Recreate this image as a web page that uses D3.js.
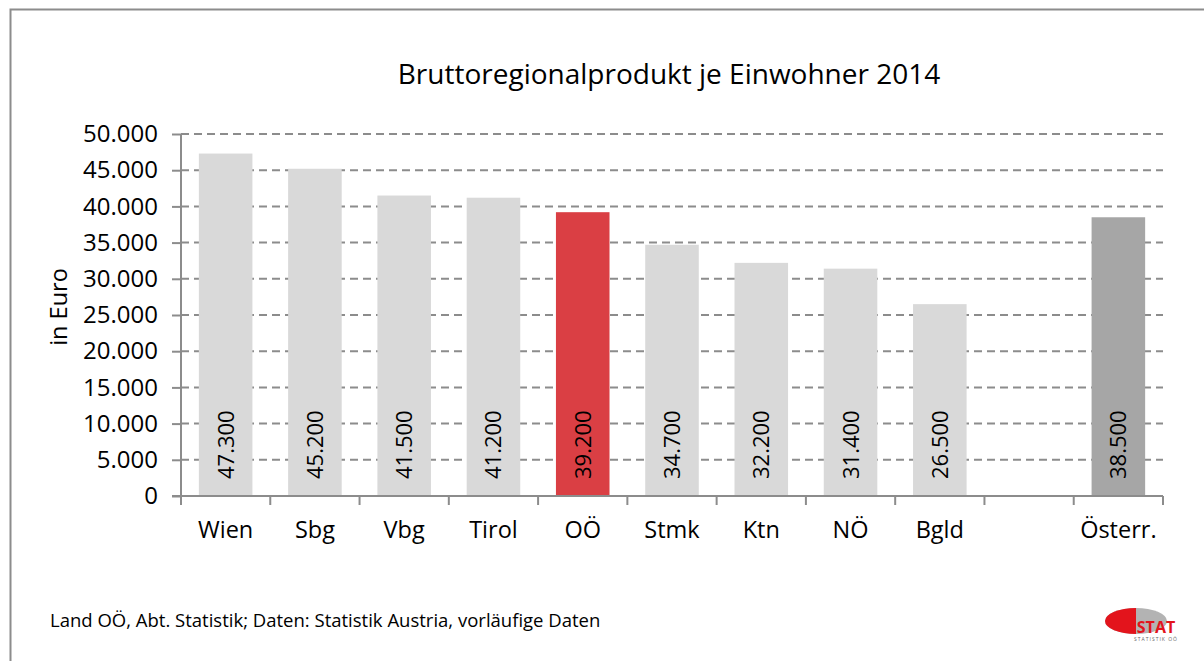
<!DOCTYPE html>
<html>
<head>
<meta charset="utf-8">
<script src="https://cdn.jsdelivr.net/npm/d3@7"></script>
<style>
  body { margin: 0; background: #fff; }
  text { font-family: "Open Sans", sans-serif; fill: #000; }
</style>
</head>
<body>
<div id="graph"></div>
<script>
// Chart data
var regions = ["Wien", "Sbg", "Vbg", "Tirol", "OÖ", "Stmk", "Ktn", "NÖ", "Bgld", "", "Österr."];
var values = [47300, 45200, 41500, 41200, 39200, 34700, 32200, 31400, 26500, null, 38500];
var yTicks = [0, 5000, 10000, 15000, 20000, 25000, 30000, 35000, 40000, 45000, 50000];

var width = 1204;
var height = 661;
var margin = { top: 134, right: 41, bottom: 165, left: 181 };

var svg = d3.select("#graph")
  .append("svg")
  .attr("width", width)
  .attr("height", height);

// outer frame
svg.append("rect")
  .attr("x", 10.5).attr("y", 9.5)
  .attr("width", 1210).attr("height", 700)
  .attr("fill", "none")
  .attr("stroke", "#8c8c8c")
  .attr("stroke-width", 2);

var fmt = function(v) { return d3.format(",")(v).replace(/,/g, "."); };

var xScale = d3.scaleBand()
  .domain(d3.range(regions.length))
  .range([margin.left, width - margin.right])
  .paddingInner(0.4)
  .paddingOuter(0.2);

var yScale = d3.scaleLinear()
  .domain([0, 50000])
  .range([height - margin.bottom, margin.top]);

// only the categories that have a value
var idx = d3.range(values.length).filter(function(i) { return values[i] != null; });

// gridlines
svg.append("g")
  .selectAll("line")
  .data(yTicks.slice(1))
  .enter().append("line")
  .attr("x1", margin.left)
  .attr("x2", width - margin.right)
  .attr("y1", function(d) { return yScale(d); })
  .attr("y2", function(d) { return yScale(d); })
  .attr("stroke", "#8c8c8c")
  .attr("stroke-width", 2)
  .attr("stroke-dasharray", "8,5");

// bars
svg.append("g")
  .selectAll("rect")
  .data(idx)
  .enter().append("rect")
  .attr("x", function(i) { return xScale(i); })
  .attr("width", xScale.bandwidth())
  .attr("y", function(i) { return yScale(values[i]); })
  .attr("height", function(i) { return yScale(0) - yScale(values[i]); })
  .attr("fill", function(i) {
    if (regions[i] === "OÖ") return "#da3f44";
    if (regions[i] === "Österr.") return "#a6a6a6";
    return "#d9d9d9";
  });

// value labels (rotated)
svg.append("g")
  .selectAll("text")
  .data(idx)
  .enter().append("text")
  .attr("transform", function(i) {
    return "translate(" + (xScale(i) + xScale.bandwidth() / 2 + 8) + "," + (yScale(0) - 17) + ") rotate(-90)";
  })
  .attr("font-size", 22)
  .text(function(i) { return fmt(values[i]); });

// y axis
var yAxis = svg.append("g")
  .attr("transform", "translate(" + margin.left + ",0)")
  .call(d3.axisLeft(yScale).tickValues(yTicks).tickSize(9).tickPadding(14).tickFormat(fmt));
yAxis.select(".domain").attr("stroke", "#8c8c8c").attr("stroke-width", 2).attr("d", "M0," + yScale(0) + "V" + yScale(50000));
yAxis.selectAll(".tick line").attr("stroke", "#8c8c8c").attr("stroke-width", 2);
yAxis.selectAll(".tick text").attr("font-size", 24).attr("font-family", "Open Sans, sans-serif");

// x axis
var xPos = d3.scaleLinear().domain([0, regions.length]).range([margin.left, width - margin.right]);
var xAxis = svg.append("g")
  .attr("transform", "translate(0," + yScale(0) + ")");
xAxis.append("line")
  .attr("x1", margin.left - 9).attr("x2", width - margin.right)
  .attr("stroke", "#8c8c8c").attr("stroke-width", 2);
xAxis.selectAll(".xt")
  .data(d3.range(regions.length + 1))
  .enter().append("line")
  .attr("x1", function(d) { return xPos(d); })
  .attr("x2", function(d) { return xPos(d); })
  .attr("y1", 0).attr("y2", 9)
  .attr("stroke", "#8c8c8c").attr("stroke-width", 2);
xAxis.selectAll(".xl")
  .data(regions)
  .enter().append("text")
  .attr("x", function(d, i) { return xScale(i) + xScale.bandwidth() / 2; })
  .attr("y", 42)
  .attr("text-anchor", "middle")
  .attr("font-size", 23.5)
  .text(function(d) { return d; });

// axis title
svg.append("text")
  .attr("transform", "translate(67,307) rotate(-90)")
  .attr("text-anchor", "middle")
  .attr("font-size", 23.5)
  .text("in Euro");

// title
svg.append("text")
  .attr("x", 669).attr("y", 84)
  .attr("text-anchor", "middle")
  .attr("font-size", 28)
  .text("Bruttoregionalprodukt je Einwohner 2014");

// source note
svg.append("text")
  .attr("x", 50).attr("y", 627)
  .attr("font-size", 18.5)
  .text("Land OÖ, Abt. Statistik; Daten: Statistik Austria, vorläufige Daten");

// logo
var logo = svg.append("g").attr("transform", "translate(1136,621)");
logo.append("ellipse").attr("rx", 31).attr("ry", 13).attr("fill", "#b3b3b3");
logo.append("path")
  .attr("d", d3.arc()({ innerRadius: 0, outerRadius: 1, startAngle: Math.PI, endAngle: 2 * Math.PI }))
  .attr("transform", "scale(31,13)")
  .attr("fill", "#e3141c");
logo.append("text")
  .attr("x", 20).attr("y", 12)
  .attr("text-anchor", "middle")
  .attr("font-size", 16).attr("font-weight", "bold")
  .style("fill", "#e3141c")
  .text("STAT");
logo.append("text")
  .attr("x", 20).attr("y", 20)
  .attr("text-anchor", "middle")
  .attr("font-size", 5).attr("letter-spacing", 1)
  .style("fill", "#666")
  .text("STATISTIK OÖ");
</script>
</body>
</html>
